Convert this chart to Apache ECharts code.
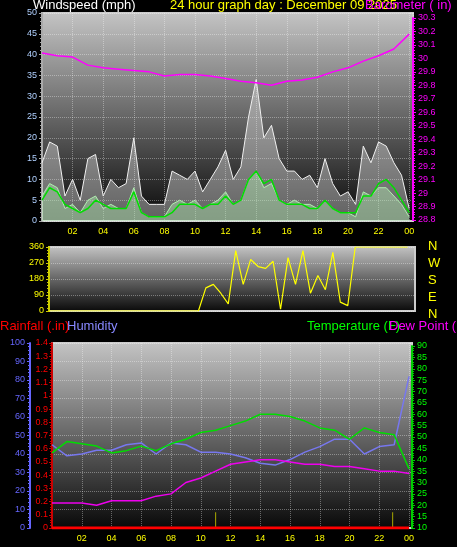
<!DOCTYPE html>
<html><head><meta charset="utf-8">
<script src="https://cdn.jsdelivr.net/npm/echarts@6/dist/echarts.min.js"></script>
<style>html,body{margin:0;background:#000}#c{width:457px;height:547px}</style>
</head><body><div id="c"></div>
<script>
// half-hour samples from 00:00 to 24:00
const windGust  = [14,19,18,6,10,5,15,16,6,10,8,9,20,6,4,4,4,12,11,10,12,7,10,13,17,10,13,25,34,20,23,15,12,12,10,11,8,15,9,6,7,4,18,14,19,18,14,11,3];
const windSpeed = [6,9,8,3,4,2,5,6,3,4,3,3,8,2,1,1,1,4,5,4,5,3,4,5,7,4,5,10,12,8,9,5,4,5,4,4,3,5,3,2,2,1,7,6,8,8,6,4,1];
const windAvg   = [5,8,7,4,3,2,3,5,4,3,3,3,7,2,1,1,1,2,4,4,4,3,4,4,6,4,5,10,12,9,10,5,4,4,4,3,3,5,3,2,2,2,6,6,9,10,8,5,2];
const windDir   = [0,0,0,0,0,0,0,0,0,0,0,0,0,0,0,0,0,0,0,0,0,130,150,100,40,340,150,290,250,240,280,10,300,150,340,100,200,120,330,50,30,360,360,360,360,360,360,360,360];
// hourly samples from 00:00 to 24:00
const pressure  = [30.04,30.02,30.01,29.95,29.93,29.92,29.91,29.90,29.87,29.88,29.88,29.87,29.85,29.83,29.82,29.80,29.83,29.84,29.86,29.90,29.93,29.98,30.02,30.07,30.18];
const temperature = [43,48,47,46,43,44,46,44,47,49,52,53,55,57,60,60,59,57,54,53,49,54,52,51,36];
const humidity  = [45,39,40,42,42,45,46,40,46,45,41,41,40,38,35,34,37,41,44,48,48,40,44,45,82];
const dewPoint  = [21,21,21,20,22,22,22,24,25,30,32,35,38,39,40,40,39,38,38,37,37,36,35,35,34];
const rainfall  = [0,0,0,0,0,0,0,0,0,0,0,0,0,0,0,0,0,0,0,0,0,0,0,0,0];
const rainMarks = [[11,0.12],[22.9,0.12]];
const hourTicks = [2,4,6,8,10,12,14,16,18,20,22,24];

const half = a => a.map((v,i)=>[i*0.5,v]);
const hour = a => a.map((v,i)=>[i,v]);
const fmtH = v => hourTicks.includes(v) ? String(v%24).padStart(2,'0') : '';
const bg = {type:'linear',x:0,y:0,x2:0,y2:1,colorStops:[{offset:0,color:'#c4c4c4'},{offset:1,color:'#080808'}]};
const grid = (l,r,t,b,bgc)=>({left:l,right:r,top:t,bottom:b,show:!!bgc,backgroundColor:bgc||'transparent',borderColor:'#ccc',borderWidth:bgc?2:0});
const split = {show:true,lineStyle:{color:'rgba(255,255,255,0.35)',type:'dotted'}};
const xAx = (gi,max,show)=>({type:'value',gridIndex:gi,min:0,max:max,interval:2,
  axisLine:{show:false},axisTick:{show:false},splitLine:show?split:{show:false},
  axisLabel:{show:show,color:'#ffff00',fontSize:9,formatter:fmtH,margin:6}});
const yAx = (gi,opt)=>Object.assign({type:'value',gridIndex:gi,axisTick:{show:true,length:3,lineStyle:{color:opt.c}},
  minorTick:{show:true,length:2,splitNumber:5,lineStyle:{color:opt.c}},
  axisLine:{show:true,onZero:false,lineStyle:{color:opt.c,width:2}},splitLine:{show:false},
  axisLabel:{color:opt.lc||opt.c,fontSize:9,margin:5}},opt.o);

const chart = echarts.init(document.getElementById('c'));
chart.setOption({
  backgroundColor:'#000',animation:false,
  grid:[grid(42,44,13,326,bg),grid(42,44,18,327),grid(49,42,247,236,bg),grid(52,45,343,19,bg),grid(52,45,346,19)],
  xAxis:[xAx(0,24.25,true),xAx(1,24.25,false),xAx(2,24.5,false),xAx(3,24.2,true),xAx(4,24.2,false)],
  yAxis:[
    yAx(0,{c:'#aaaaaa',lc:'#b0d0ff',o:{min:0,max:50,interval:5,splitLine:split}}),
    yAx(1,{c:'#ff00ff',o:{position:'right',min:28.8,max:30.3,interval:0.1,axisLabel:{color:'#ff00ff',fontSize:9,margin:5,formatter:v=>String(+v.toFixed(1))}}}),
    yAx(2,{c:'#cccc00',lc:'#ffff00',o:{min:0,max:360,interval:90,splitLine:split}}),
    yAx(3,{c:'#6666ff',o:{position:'left',min:0,max:100,interval:10,offset:22,splitLine:split}}),
    yAx(3,{c:'#cc0000',lc:'#ff0000',o:{position:'left',min:0,max:1.4,interval:0.1,axisLabel:{color:'#ff0000',fontSize:9,margin:4,formatter:v=>String(+v.toFixed(1))}}}),
    yAx(4,{c:'#00cc00',lc:'#00ff00',o:{position:'right',min:10,max:90,interval:5}})
  ],
  series:[
    {type:'line',xAxisIndex:0,yAxisIndex:0,data:half(windGust),symbol:'none',lineStyle:{color:'#f0f0f0',width:1},areaStyle:{color:'rgba(240,240,240,0.55)'}},
    {type:'line',xAxisIndex:0,yAxisIndex:0,data:half(windSpeed),symbol:'none',lineStyle:{color:'#b0f0b0',width:1},areaStyle:{color:'rgba(180,240,180,0.6)'}},
    {type:'line',xAxisIndex:0,yAxisIndex:0,data:half(windAvg),symbol:'none',lineStyle:{color:'#00dd00',width:1.5}},
    {type:'line',xAxisIndex:1,yAxisIndex:1,data:hour(pressure),symbol:'none',lineStyle:{color:'#ff00ff',width:1.5}},
    {type:'line',xAxisIndex:2,yAxisIndex:2,data:half(windDir),symbol:'none',lineStyle:{color:'#ffff00',width:1.2}},
    {type:'line',xAxisIndex:3,yAxisIndex:3,data:hour(humidity),symbol:'none',lineStyle:{color:'#7777ee',width:1.5}},
    {type:'line',xAxisIndex:3,yAxisIndex:4,data:hour(rainfall),symbol:'none',lineStyle:{color:'#ff0000',width:3}},
    {type:'bar',xAxisIndex:3,yAxisIndex:4,data:rainMarks,barWidth:1,itemStyle:{color:'#aaaa00'}},
    {type:'line',xAxisIndex:4,yAxisIndex:5,data:hour(temperature),symbol:'none',lineStyle:{color:'#00dd00',width:1.5}},
    {type:'line',xAxisIndex:4,yAxisIndex:5,data:hour(dewPoint),symbol:'none',lineStyle:{color:'#ee00ee',width:1.5}}
  ],
  graphic:[
    {type:'text',left:33,top:-1,style:{text:'Windspeed (mph)',fill:'#ffffff',fontSize:13,fontFamily:'Arial'}},
    {type:'text',left:170,top:-1,style:{text:'24 hour graph day : December 09 2025',fill:'#ffff00',fontSize:13,fontFamily:'Arial'}},
    {type:'text',left:365,top:-1,style:{text:'Barometer ( in)',fill:'#ff00ff',fontSize:13,fontFamily:'Arial'}},
    {type:'text',left:428,top:238,style:{text:'N\nW\nS\nE\nN',fill:'#ffff00',fontSize:13,lineHeight:17,fontFamily:'Arial'}},
    {type:'text',left:0,top:320,style:{text:'Rainfall (.in)',fill:'#ff0000',fontSize:13,fontFamily:'Arial'}},
    {type:'text',left:67,top:320,style:{text:'Humidity',fill:'#8888ff',fontSize:13,fontFamily:'Arial'}},
    {type:'text',left:307,top:320,style:{text:'Temperature (F)',fill:'#00ff00',fontSize:13,fontFamily:'Arial'}},
    {type:'text',left:389,top:320,style:{text:'Dew Point (F)',fill:'#ff00ff',fontSize:13,fontFamily:'Arial'}}
  ]
});
</script></body></html>
